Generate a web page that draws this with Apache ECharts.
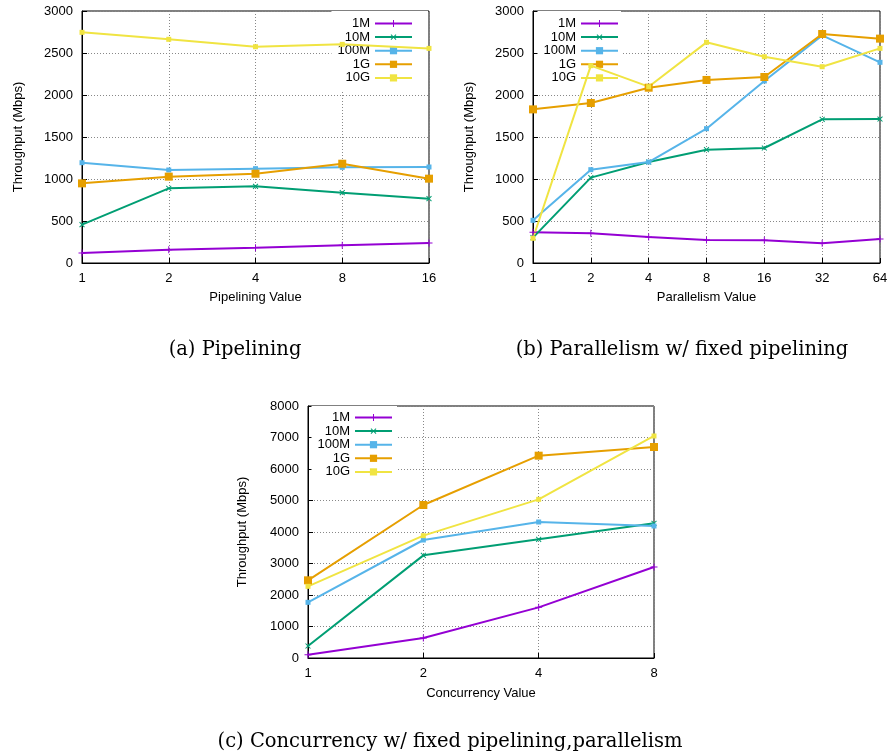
<!DOCTYPE html>
<html>
<head>
<meta charset="utf-8">
<script src="https://cdn.jsdelivr.net/npm/echarts@6/dist/echarts.min.js"></script>
<style>
html,body{margin:0;padding:0;background:#fff;}
#chart{width:890px;height:756px;}
</style>
</head>
<body>
<div id="chart"></div>
<script>
// ---- Data ----
var seriesNames = ['1M', '10M', '100M', '1G', '10G'];

var pipeliningCategories = ['1', '2', '4', '8', '16'];
var pipe1M   = [119, 159, 183, 210, 238];
var pipe10M  = [456, 889, 913, 837, 766];
var pipe100M = [1194, 1107, 1123, 1139, 1143];
var pipe1G   = [948, 1028, 1063, 1182, 1004];
var pipe10G  = [2746, 2663, 2575, 2603, 2555];

var parallelismCategories = ['1', '2', '4', '8', '16', '32', '64'];
var par1M   = [365, 353, 310, 274, 270, 234, 286];
var par10M  = [302, 1016, 1202, 1349, 1369, 1710, 1714];
var par100M = [508, 1111, 1202, 1599, 2167, 2710, 2389];
var par1G   = [1829, 1905, 2087, 2179, 2214, 2726, 2671];
var par10G  = [294, 2349, 2099, 2627, 2456, 2337, 2555];

var concurrencyCategories = ['1', '2', '4', '8'];
var conc1M   = [106, 635, 1608, 2889];
var conc10M  = [381, 3259, 3767, 4275];
var conc100M = [1767, 3746, 4317, 4190];
var conc1G   = [2466, 4857, 6423, 6698];
var conc10G  = [2275, 3884, 5037, 7048];

var captions = [
  '(a) Pipelining',
  '(b) Parallelism w/ fixed pipelining',
  '(c) Concurrency w/ fixed pipelining,parallelism'
];
var xNames = ['Pipelining Value', 'Parallelism Value', 'Concurrency Value'];
var yName = 'Throughput (Mbps)';

// ---- Styles ----
var colors = ['#9400d3', '#009e73', '#56b4e9', '#e69f00', '#f0e442'];
var plusPath = 'path://M4.3,0 H5.7 V4.3 H10 V5.7 H5.7 V10 H4.3 V5.7 H0 V4.3 H4.3 Z';
var symbols = [plusPath, plusPath, 'rect', 'rect', 'rect'];
var symbolSizes = [7, 7, 5, 8, 5];
var symbolRotates = [0, 45, 0, 0, 0];
var sansFont = '"Liberation Sans", Arial, sans-serif';

var grids = [
  {left: 82, top: 11, width: 347, height: 252},
  {left: 533, top: 11, width: 347, height: 252},
  {left: 308, top: 406, width: 346, height: 252}
];

function makeX(idx, cats, nameGap) {
  return {
    type: 'category', gridIndex: idx, data: cats, boundaryGap: false,
    name: xNames[idx], nameLocation: 'middle', nameGap: nameGap,
    nameTextStyle: {fontFamily: sansFont, fontSize: 13, color: '#000'},
    axisLine: {lineStyle: {color: '#000', width: 1}},
    axisTick: {show: true, inside: true, length: 5, alignWithLabel: true, lineStyle: {color: '#000'}},
    axisLabel: {color: '#000', fontFamily: sansFont, fontSize: 13, margin: 9},
    splitLine: {show: true, lineStyle: {color: '#888', type: [1, 2], width: 1}}
  };
}
function makeY(idx, max, interval, nameGap) {
  return {
    type: 'value', gridIndex: idx, min: 0, max: max, interval: interval,
    name: yName, nameLocation: 'middle', nameGap: nameGap, nameRotate: 90,
    nameTextStyle: {fontFamily: sansFont, fontSize: 13, color: '#000'},
    axisLine: {show: true, lineStyle: {color: '#000', width: 1}},
    axisTick: {show: true, inside: true, length: 5, lineStyle: {color: '#000'}},
    axisLabel: {color: '#000', fontFamily: sansFont, fontSize: 13, margin: 9,
      formatter: function (v) { return String(v); }},
    splitLine: {show: true, lineStyle: {color: '#888', type: [1, 2], width: 1}}
  };
}

function makeSeries(idx, arrays) {
  return arrays.map(function (arr, i) {
    return {
      type: 'line', name: seriesNames[i], xAxisIndex: idx, yAxisIndex: idx,
      data: arr, color: colors[i],
      symbol: symbols[i], symbolSize: symbolSizes[i], symbolRotate: symbolRotates[i],
      showAllSymbol: true,
      lineStyle: {width: 2, color: colors[i]},
      itemStyle: {color: colors[i]},
      animation: false, z: 3
    };
  });
}

function makeLegend(right, top, padding) {
  return {
    orient: 'vertical', align: 'right', right: right, top: top,
    padding: padding, itemWidth: 37, itemHeight: 9, itemGap: 0.6,
    backgroundColor: '#fff', selectedMode: false, z: 1,
    data: seriesNames,
    textStyle: {fontFamily: sansFont, fontSize: 13, color: '#000'}
  };
}

var serifFont = '"DejaVu Serif", "Liberation Serif", serif';
var capStyle = {fontFamily: serifFont, fontSize: 19.5, fontWeight: 'normal', color: '#000'};
var option = {
  backgroundColor: '#fff',
  animation: false,
  title: [
    {text: captions[0], left: 230, top: 335, textAlign: 'center', textStyle: capStyle},
    {text: captions[1], left: 677, top: 335, textAlign: 'center', textStyle: capStyle},
    {text: captions[2], left: 445, top: 727, textAlign: 'center', textStyle: capStyle}
  ],
  grid: grids.map(function (g) {
    return Object.assign({show: true, borderColor: '#000', borderWidth: 1,
      backgroundColor: 'transparent', containLabel: false, outerBoundsMode: 'none'}, g);
  }),
  legend: [
    makeLegend(462, 11, [6, 15, 6, 6]),
    makeLegend(269, 11, [6, 2, 6, 6]),
    makeLegend(493, 406, [5, 4, 6, 6])
  ],
  xAxis: [
    makeX(0, pipeliningCategories, 28),
    makeX(1, parallelismCategories, 28),
    makeX(2, concurrencyCategories, 29)
  ],
  yAxis: [
    makeY(0, 3000, 500, 57),
    makeY(1, 3000, 500, 57),
    makeY(2, 8000, 1000, 59)
  ],
  series: [].concat(
    makeSeries(0, [pipe1M, pipe10M, pipe100M, pipe1G, pipe10G]),
    makeSeries(1, [par1M, par10M, par100M, par1G, par10G]),
    makeSeries(2, [conc1M, conc10M, conc100M, conc1G, conc10G])
  )
};

var chart = echarts.init(document.getElementById('chart'), null, {renderer: 'canvas'});
chart.setOption(option);
</script>
</body>
</html>
